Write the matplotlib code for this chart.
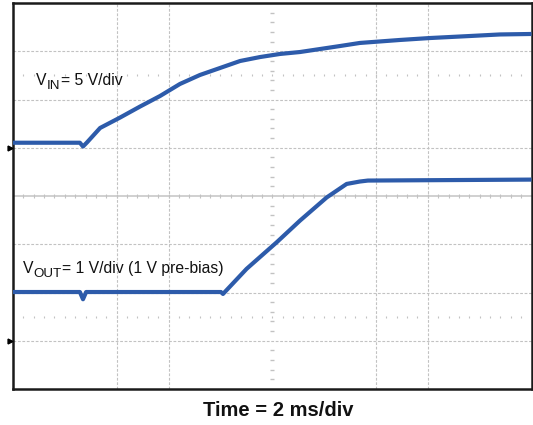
import matplotlib
matplotlib.use("Agg")
import matplotlib.pyplot as plt
import numpy as np

# ---- scope traces (time in ms, values in volts) ----
vin_t = [0.0, 2.58, 2.70, 2.85, 3.36, 4.13, 4.90, 5.67, 6.44, 7.21, 7.98, 8.76,
         9.53, 10.30, 11.07, 11.84, 12.61, 13.38, 14.93, 16.08, 17.63, 18.78, 20.0]
vin_v = [0.52, 0.52, 0.13, 0.54, 2.05, 3.13, 4.27, 5.36, 6.61, 7.54, 8.26, 8.99,
         9.40, 9.72, 9.92, 10.23, 10.54, 10.86, 11.17, 11.37, 11.58, 11.74, 11.79]

vout_t = [0.0, 2.58, 2.70, 2.82, 8.02, 8.10, 9.01, 10.17, 11.07, 12.10, 12.87,
          13.38, 13.69, 20.0]
vout_v = [1.01, 1.01, 0.86, 1.01, 1.01, 0.97, 1.49, 2.04, 2.49, 2.97, 3.25,
          3.30, 3.32, 3.34]

# channel settings: volts per division and ground level (in divisions)
vin_scale, vin_ground = 5.0, 1.0
vout_scale, vout_ground = 1.0, -3.0

time_per_div = 2.0          # ms/div
n_xdiv, n_ydiv = 10, 8

vin_label = ("V", "IN", "= 5 V/div")
vout_label = ("V", "OUT", "= 1 V/div (1 V pre-bias)")
time_label = "Time = 2 ms/div"

# ---- figure ----
FONT = "Liberation Sans"
TRACE = "#2D5BAA"
GRID = "#C2C2C2"

fig = plt.figure(figsize=(5.33, 4.25), dpi=100)
ax = fig.add_axes([13 / 533, 1 - 389 / 425, 518.5 / 533, 386 / 425])
xmax = n_xdiv * time_per_div
ax.set_xlim(0, xmax)
ax.set_ylim(-n_ydiv / 2, n_ydiv / 2)
ax.set_xticks([])
ax.set_yticks([])
for sp in ax.spines.values():
    sp.set_linewidth(1.8)
    sp.set_color("#1a1a1a")

# graticule
for d in [-3, -2, -1, 1, 2, 3]:
    ax.axhline(d, color=GRID, lw=0.8, ls=(0, (2.5, 1.5)), zorder=1)
for k in [2, 3, 7, 8]:
    ax.axvline(k * time_per_div, color=GRID, lw=0.8, ls=(0, (2.5, 1.5)), zorder=1)
ax.axhline(0, color="#C8C8C8", lw=1.2, zorder=1)

minor_x = np.arange(0.2, n_xdiv, 0.2) * time_per_div
minor_y = np.arange(-n_ydiv / 2 + 0.2, n_ydiv / 2, 0.2)
minor_y = minor_y[np.abs(minor_y - np.round(minor_y)) > 1e-6]
ax.plot(minor_x, np.zeros_like(minor_x), ls="none", marker="|", ms=3.5,
        mew=0.8, color=GRID, zorder=1)
ax.plot(np.full_like(minor_y, xmax / 2), minor_y, ls="none", marker="_", ms=3.5,
        mew=1.0, color=GRID, zorder=1)
for row in (2.5, -2.5):
    ax.plot(minor_x, np.full_like(minor_x, row), ls="none", marker="|", ms=1.6,
            mew=0.8, color=GRID, zorder=1)

# traces
ax.plot(vin_t, vin_ground + np.array(vin_v) / vin_scale, color=TRACE, lw=3.0,
        solid_capstyle="butt", zorder=3)
ax.plot(vout_t, vout_ground + np.array(vout_v) / vout_scale, color=TRACE, lw=3.0,
        solid_capstyle="butt", zorder=3)

# ground markers
ax.plot([-0.12, -0.12], [vin_ground, vout_ground], ls="none", marker=">",
        ms=3.5, color="black", clip_on=False, zorder=4)


def sub_label(x, y, parts, size=11.3, subsize=9.6):
    main, sub, rest = parts
    t1 = ax.text(x, y, main, fontsize=size, family=FONT, va="baseline",
                 ha="left", color="#111111", zorder=5)
    t2 = ax.annotate(sub, xy=(1, 0), xycoords=t1, xytext=(0.2, -3.2),
                     textcoords="offset points", fontsize=subsize, family=FONT,
                     va="bottom", ha="left", color="#111111", zorder=5)
    ax.annotate(rest, xy=(1, 0), xycoords=(t2, t1), xytext=(0.6, 0),
                textcoords="offset points", fontsize=size, family=FONT,
                va="bottom", ha="left", color="#111111", zorder=5)


sub_label(0.89, 2.30, vin_label)
sub_label(0.37, -1.59, vout_label)

fig.text(278 / 533, 1 - 416 / 425, time_label, ha="center", va="baseline",
         fontsize=14.5, fontweight="bold", family=FONT, color="#111111")

fig.savefig("out.png", dpi=100)
